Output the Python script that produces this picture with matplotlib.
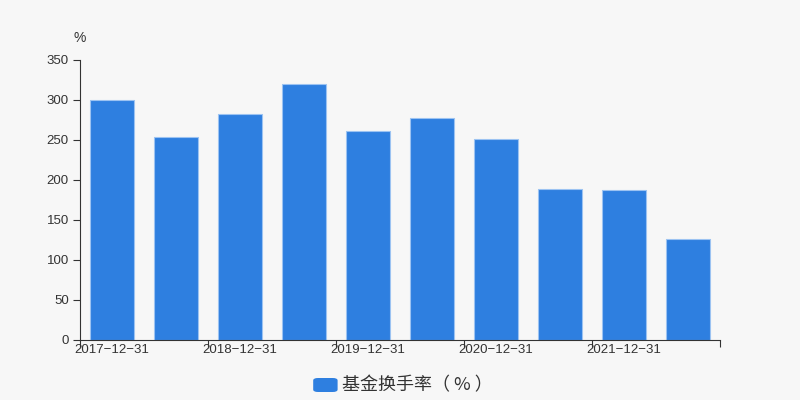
import matplotlib
matplotlib.use("Agg")
import matplotlib.pyplot as plt
from matplotlib.patches import FancyBboxPatch
import numpy as np

plt.rcParams['font.family'] = ['Liberation Sans', 'DejaVu Sans', 'Noto Sans CJK SC']

# data
dates = ['2017-12-31', '2018-06-30', '2018-12-31', '2019-06-30', '2019-12-31',
         '2020-06-30', '2020-12-31', '2021-06-30', '2021-12-31', '2022-06-30']
turnover = [300, 254, 283, 320, 261, 278, 251, 189, 187, 126]
yticks = [0, 50, 100, 150, 200, 250, 300, 350]

bg = '#f7f7f7'
bar_color = '#2e7fe0'
edge_color = '#9cc3f2'
text_color = '#333333'

fig = plt.figure(figsize=(8, 4), dpi=100, facecolor=bg)
ax = fig.add_axes([0.1, 0.15, 0.8, 0.7], facecolor=bg)

x = np.arange(len(dates))
ax.bar(x, turnover, width=0.69, color=bar_color, edgecolor=edge_color, linewidth=0.8)

ax.set_xlim(-0.5, len(dates) - 0.5)
ax.set_ylim(0, 350)
ax.set_yticks(yticks)
ax.set_yticklabels([str(v) for v in yticks], fontsize=9.5, color=text_color)

# ticks on boundaries every two categories, labels under every other bar
ax.set_xticks(np.arange(-0.5, len(dates), 2))
ax.set_xticklabels([])
ax.tick_params(axis='x', length=5, color=text_color)
ax.tick_params(axis='y', length=5, color=text_color, pad=3)
for i in range(0, len(dates), 2):
    ax.text(i, -5, dates[i].replace('-', '\u2212'), ha='center', va='top',
            fontsize=9.5, color=text_color)

for s in ['top', 'right']:
    ax.spines[s].set_visible(False)
ax.spines['left'].set_color(text_color)
ax.spines['bottom'].set_color(text_color)

fig.text(0.1, 0.905, '%', ha='center', va='center', fontsize=10, color=text_color)

# legend
handle = FancyBboxPatch((0.3915, 0.02), 0.0305, 0.035, boxstyle='round,pad=0,rounding_size=0.006',
                        transform=fig.transFigure, facecolor=bar_color, edgecolor='none')
fig.patches.append(handle)
fig.text(0.428, 0.038, '基金换手率（ % ）', ha='left', va='center', fontsize=13,
         color=text_color, family=['Noto Sans CJK SC', 'DejaVu Sans'])

fig.savefig('out.png', dpi=100, facecolor=bg)
